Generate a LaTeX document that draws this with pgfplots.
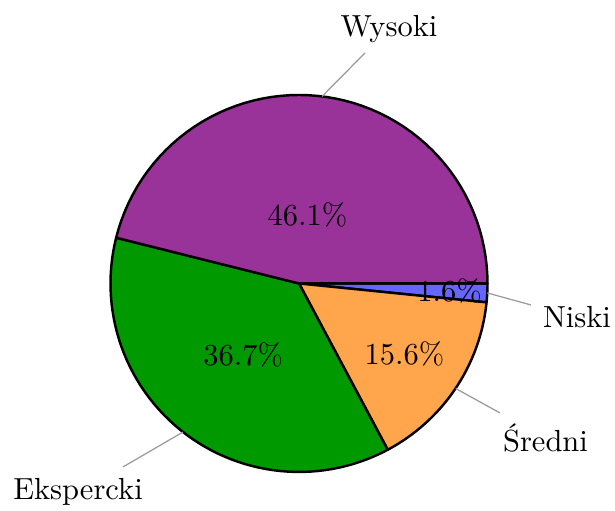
\documentclass[border=0pt]{standalone}
\usepackage{pgfplots}
\pgfplotsset{compat=1.18}

\definecolor{cWys}{HTML}{993399}
\definecolor{cEks}{HTML}{009900}
\definecolor{cSre}{HTML}{FFA64D}
\definecolor{cNis}{HTML}{6666FF}

% shares in percent, clockwise from 0 deg
\def\vNis{1.6}
\def\vSre{15.6}
\def\vEks{36.7}
\def\vWys{46.1}

% centre and radius (picture units)
\def\cx{299}
\def\cy{227.5}
\def\R{188.5}

\tikzset{
    slice/.style={draw=black, line width=0.8pt, line join=round, samples=60, mark=none},
    leader/.style={draw=gray!80, line width=0.4pt},
}

\begin{document}
\begin{tikzpicture}
\pgfmathsetmacro{\aA}{0}
\pgfmathsetmacro{\aB}{\aA-3.6*\vNis}
\pgfmathsetmacro{\aC}{\aB-3.6*\vSre}
\pgfmathsetmacro{\aD}{\aC-3.6*\vEks}
\pgfmathsetmacro{\aE}{\aD-3.6*\vWys}
\begin{axis}[
    name=pie,
    hide axis,
    scale only axis,
    width=201.6pt,
    height=167.5pt,
    xmin=0, xmax=615,
    ymin=0, ymax=511,
    clip=false,
]
\addplot[slice, fill=cNis, domain=\aB:\aA] ({\cx+\R*cos(x)},{\cy+\R*sin(x)}) -- (\cx,\cy) -- cycle;
\addplot[slice, fill=cSre, domain=\aC:\aB] ({\cx+\R*cos(x)},{\cy+\R*sin(x)}) -- (\cx,\cy) -- cycle;
\addplot[slice, fill=cEks, domain=\aD:\aC] ({\cx+\R*cos(x)},{\cy+\R*sin(x)}) -- (\cx,\cy) -- cycle;
\addplot[slice, fill=cWys, domain=\aE:\aD] ({\cx+\R*cos(x)},{\cy+\R*sin(x)}) -- (\cx,\cy) -- cycle;

% percentage labels
\pgfmathsetmacro{\mA}{(\aA+\aB)/2}
\pgfmathsetmacro{\mB}{(\aB+\aC)/2}
\pgfmathsetmacro{\mC}{(\aC+\aD)/2}
\pgfmathsetmacro{\mD}{(\aD+\aE)/2}
\node at ({\cx+0.80*\R*cos(\mA)},{\cy+0.80*\R*sin(\mA)}) {1.6\%};
\node at ({\cx+0.674*\R*cos(\mB)},{\cy+0.674*\R*sin(\mB)}) {15.6\%};
\node at ({\cx+0.48*\R*cos(\mC)},{\cy+0.48*\R*sin(\mC)}) {36.7\%};
\node at ({\cx+0.366*\R*cos(\mD)},{\cy+0.366*\R*sin(\mD)}) {46.1\%};

% leader lines and names
\draw[leader] ({\cx+\R*cos(\mA)},{\cy+\R*sin(\mA)}) -- (531,206);
\draw[leader] ({\cx+\R*cos(\mB)},{\cy+\R*sin(\mB)}) -- (500,98);
\draw[leader] ({\cx+\R*cos(\mC)},{\cy+\R*sin(\mC)}) -- (123,44);
\draw[leader] ({\cx+\R*cos(\mD)},{\cy+\R*sin(\mD)}) -- (365,458);

\node[anchor=base, inner sep=0pt] at (577,183) {Niski};
\node[anchor=base, inner sep=0pt] at (545.5,59) {Średni};
\node[anchor=base, inner sep=0pt] at (78,11) {Ekspercki};
\node[anchor=base, inner sep=0pt] at (389,474) {Wysoki};
\end{axis}
\pgfresetboundingbox
\path (pie.south west) rectangle (pie.north east);
\end{tikzpicture}
\end{document}
